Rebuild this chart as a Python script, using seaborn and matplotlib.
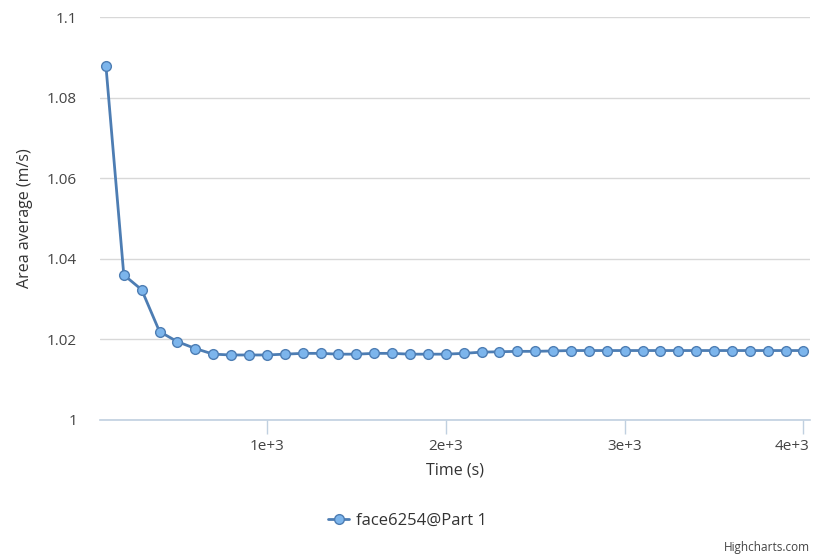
import numpy as np
import pandas as pd
import matplotlib
matplotlib.use("Agg")
import matplotlib.pyplot as plt
import matplotlib.transforms as mtransforms
import seaborn as sns

# Sampled area-averaged velocity over time
times = [100 * i for i in range(1, 41)]
area_avg = [1.0880, 1.0360, 1.0323, 1.0219, 1.0194, 1.0177, 1.0163, 1.0161, 1.0161, 1.0161,
            1.0163, 1.0165, 1.0165, 1.0163, 1.0163, 1.0165, 1.0165, 1.0163, 1.0163, 1.0163,
            1.0165, 1.0168, 1.0169, 1.0170, 1.0170, 1.0171, 1.0172, 1.0172, 1.0172, 1.0172,
            1.0172, 1.0172, 1.0172, 1.0172, 1.0172, 1.0172, 1.0172, 1.0172, 1.0172, 1.0172]
series_name = "face6254@Part 1"
x_ticks = [1000, 2000, 3000, 4000]
x_tick_labels = ["1e+3", "2e+3", "3e+3", "4e+3"]
y_ticks = [1.0, 1.02, 1.04, 1.06, 1.08, 1.1]
y_tick_labels = ["1", "1.02", "1.04", "1.06", "1.08", "1.1"]

df = pd.DataFrame({"Time (s)": times, "value": area_avg, "series": series_name})

sns.set_theme(style="white")
plt.rcParams["font.family"] = ["Open Sans", "DejaVu Sans"]

fig = plt.figure(figsize=(8.13, 5.56), dpi=100)
ax = fig.add_axes([0.123, 0.245, 0.873, 0.724])

line_color = "#4d7db3"
marker_color = "#7cb5ec"

sns.lineplot(data=df, x="Time (s)", y="value", hue="series", palette=[line_color],
             marker="o", markersize=7, markerfacecolor=marker_color,
             markeredgecolor=line_color, markeredgewidth=1.0, linewidth=2.0, ax=ax)

ax.set_xlim(67, 4035)
ax.set_ylim(1.0, 1.1)
ax.set_xticks(x_ticks)
ax.set_xticklabels(x_tick_labels)
ax.set_yticks(y_ticks)
ax.set_yticklabels(y_tick_labels)

ax.grid(axis="y", color="#d8d8d8", linewidth=1)
ax.grid(axis="x", visible=False)
ax.set_axisbelow(True)
for side in ["top", "right", "left"]:
    ax.spines[side].set_visible(False)
ax.spines["bottom"].set_color("#c0d0e0")
ax.spines["bottom"].set_linewidth(1.2)

ax.tick_params(axis="x", which="major", length=10, width=1, color="#c0d0e0",
               direction="out", bottom=True, labelsize=11, labelcolor="#444444", pad=4)
ax.tick_params(axis="y", length=0, labelsize=11, labelcolor="#444444", pad=16.5)

# keep the last x tick label inside the figure
last = ax.get_xticklabels()[-1]
last.set_horizontalalignment("right")
last.set_transform(last.get_transform() +
                   mtransforms.ScaledTranslation(6 / 100, 0, fig.dpi_scale_trans))

ax.set_xlabel("Time (s)", fontsize=11.5, color="#333333", labelpad=6)
ax.set_ylabel("Area average (m/s)", fontsize=11.5, color="#333333", labelpad=10)

leg = ax.legend(loc="center", bbox_to_anchor=(0.433, -0.25), frameon=False,
                fontsize=12, handlelength=1.3, handletextpad=0.4)
for t in leg.get_texts():
    t.set_color("#333333")

fig.text(0.996, 0.004, "Highcharts.com", ha="right", va="bottom", fontsize=8.5, color="#444444")

fig.savefig("out.png", dpi=100)
